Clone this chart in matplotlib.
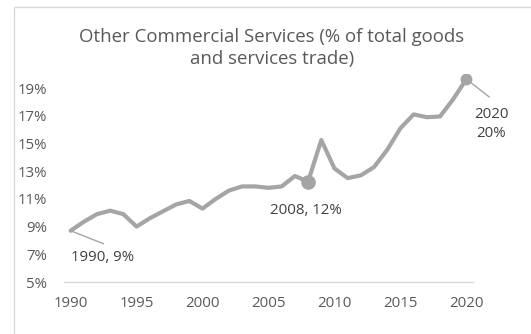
import matplotlib
matplotlib.use("Agg")
import matplotlib.pyplot as plt
from matplotlib.patches import Rectangle
from matplotlib.ticker import FuncFormatter

# Share of other commercial services in total goods and services trade (%)
years = list(range(1990, 2021))
share = [8.7, 9.35, 9.9, 10.15, 9.9, 9.0, 9.6, 10.1, 10.6, 10.85,
         10.3, 11.0, 11.6, 11.9, 11.9, 11.8, 11.9, 12.65, 12.25, 15.25,
         13.2, 12.5, 12.7, 13.3, 14.55, 16.1, 17.1, 16.9, 16.95, 18.2,
         19.65]
y_ticks = [5, 7, 9, 11, 13, 15, 17, 19]
x_ticks = [1990, 1995, 2000, 2005, 2010, 2015, 2020]
title = "Other Commercial Services (% of total goods\nand services trade)"

W, H = 531, 334
DPI = 100
plt.rcParams["font.family"] = ["Open Sans", "DejaVu Sans"]

fig = plt.figure(figsize=(W / DPI, H / DPI), dpi=DPI)
fig.patch.set_facecolor("white")

# chart frame
fig.patches.append(Rectangle((14 / W, -0.1), 1.2, (334 - 7) / H + 0.1,
                             transform=fig.transFigure, fill=False,
                             edgecolor="#D9D9D9", lw=1.0))

# plot area in pixel units
left, right = 64, 473
y_lo, y_hi = 5, 20
px_per_unit = 13.85
bottom_px = 282
top_px = bottom_px - (y_hi - y_lo) * px_per_unit
ax = fig.add_axes([left / W, (H - bottom_px) / H,
                   (right - left) / W, (bottom_px - top_px) / H])
ax.set_facecolor("none")

line_col = "#A5A5A5"
text_col = "#595959"
label_col = "#404040"

ax.plot(years, share, color=line_col, lw=3.0, solid_joinstyle="round",
        solid_capstyle="round", zorder=3)

ax.set_xlim(years[0] - 0.5, years[-1] + 0.5)
ax.set_ylim(y_lo, y_hi)
ax.set_yticks(y_ticks)
ax.set_xticks(x_ticks)
ax.yaxis.set_major_formatter(FuncFormatter(lambda v, p: f"{v:.0f}%"))
ax.tick_params(axis="both", length=0, labelsize=10.8, colors=text_col)
ax.tick_params(axis="y", pad=12)
ax.tick_params(axis="x", pad=10)
for side in ("top", "right", "left"):
    ax.spines[side].set_visible(False)
ax.spines["bottom"].set_color("#D9D9D9")
ax.spines["bottom"].set_linewidth(1.0)

# highlighted points
i08 = years.index(2008)
i20 = years.index(2020)
ax.plot([years[i08]], [share[i08]], "o", ms=9.5, color=line_col, zorder=4)
ax.plot([years[i20]], [share[i20]], "o", ms=7.5, color=line_col, zorder=4)

lead = dict(arrowstyle="-", color=line_col, lw=1.0, shrinkA=0, shrinkB=0)
fs = 10.8

# 1990 label with leader
ax.annotate("", xy=(years[0], share[0]), xytext=(33, -13),
            textcoords="offset pixels", arrowprops=lead)
ax.annotate(f"{years[0]}, {share[0]:.0f}%", xy=(years[0], share[0]),
            xytext=(32, -27), textcoords="offset pixels",
            ha="center", va="center", fontsize=fs, color=label_col)

# 2008 label
ax.annotate(f"{years[i08]}, {share[i08]:.0f}%", xy=(years[i08], share[i08]),
            xytext=(-2, -29), textcoords="offset pixels",
            ha="center", va="center", fontsize=fs, color=label_col)

# 2020 label with leader
ax.annotate("", xy=(years[i20], share[i20]), xytext=(23, -18),
            textcoords="offset pixels", arrowprops=lead)
ax.annotate(f"{years[i20]}\n{share[i20]:.0f}%", xy=(years[i20], share[i20]),
            xytext=(25, -45), textcoords="offset pixels",
            ha="center", va="center", fontsize=fs, color=label_col,
            linespacing=1.4)

fig.text(272 / W, 1 - 48 / H, title, ha="center", va="center",
         fontsize=13.4, color=text_col, linespacing=1.22)

fig.savefig("out.png", dpi=DPI)
